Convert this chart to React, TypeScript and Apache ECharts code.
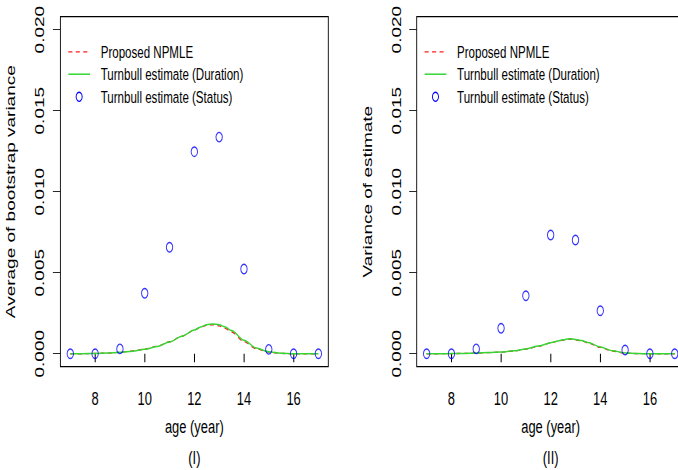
import React, { useEffect, useRef } from "react";
import * as echarts from "echarts";

// Ages at which the Turnbull (status) estimates are reported
const ages = [7, 8, 9, 10, 11, 12, 13, 14, 15, 16, 17];
// Panel (I): average of bootstrap variance, Turnbull estimate (Status)
const statusBoot = [0, 0, 0.0003, 0.00373, 0.00657, 0.01247, 0.01337, 0.00523, 0.00027, 0, 0];
// Panel (II): variance of estimate, Turnbull estimate (Status)
const statusVar = [0, 0, 0.0003, 0.00157, 0.00358, 0.00733, 0.00702, 0.00265, 0.00023, 0, 0];

// Ages at which the smooth curves are evaluated
const curveAges = [7, 7.5, 8, 8.5, 9, 9.5, 10, 10.5, 11, 11.5, 12, 12.25, 12.5, 12.75, 13, 13.25, 13.5, 14, 14.5, 15, 15.5, 16, 16.5, 17];
// Panel (I) curves
const npmleBoot = [0, 0, 0.00002, 0.00004, 0.00009, 0.00017, 0.00028, 0.00046, 0.00074, 0.00108, 0.00145, 0.00164, 0.00176, 0.00179, 0.00172, 0.00157, 0.00134, 0.00075, 0.0003, 0.0001, 0.00002, 0, 0, 0];
const durationBoot = [0, 0, 0.00002, 0.00004, 0.00009, 0.00016, 0.00027, 0.00045, 0.00073, 0.00108, 0.00146, 0.00165, 0.00179, 0.00184, 0.00179, 0.00165, 0.00143, 0.00083, 0.00035, 0.00012, 0.00003, 0, 0, 0];
// Panel (II) curves
const npmleVar = [0, 0, 0.00001, 0.00002, 0.00004, 0.00007, 0.0001, 0.00017, 0.00028, 0.00045, 0.00066, 0.00076, 0.00084, 0.0009, 0.00086, 0.00079, 0.00067, 0.00039, 0.00016, 0.00004, 0.00001, 0, 0, 0];
const durationVar = [0, 0, 0.00001, 0.00002, 0.00004, 0.00007, 0.0001, 0.00018, 0.00029, 0.00047, 0.00068, 0.00077, 0.00086, 0.00093, 0.00088, 0.00081, 0.0007, 0.00042, 0.00018, 0.00005, 0.00001, 0, 0, 0];

// Tick positions and labels
const xTicks = [8, 10, 12, 14, 16];
const yTicks = [0, 0.005, 0.01, 0.015, 0.02];

const legendNames = ["Proposed NPMLE", "Turnbull estimate (Duration)", "Turnbull estimate (Status)"];
const yTitles = ["Average of bootstrap variance", "Variance of estimate"];
const captions = ["(I)", "(II)"];

// The figure is drawn wide and then squeezed horizontally
const SQUEEZE = 0.68;
const W = 1010;
const H = 470;
const FONT = "'Liberation Sans', Arial, Helvetica, sans-serif";

const RED = "#ff1a1a";
const GREEN = "#33d633";
const BLUE = "#0000ff";

const GRID_LEFT = [88.8, 612.8];
const GRID_TOP = 16.7;
const GRID_W = 394;
const GRID_H = 350;
const Y_NAME_GAP = [64, 63];

const pairs = (xs: number[], ys: number[]) => xs.map((x, i) => [x, ys[i]]);

function buildOption() {
  const panels = [
    { status: statusBoot, npmle: npmleBoot, duration: durationBoot },
    { status: statusVar, npmle: npmleVar, duration: durationVar },
  ];

  const grid = GRID_LEFT.map((left) => ({
    left,
    top: GRID_TOP,
    width: GRID_W,
    height: GRID_H,
    show: true,
    borderColor: "#000",
    borderWidth: 1.3,
    backgroundColor: "transparent",
  }));

  const xAxis = [0, 1].map((i) => ({
    gridIndex: i,
    type: "value",
    min: 6.6,
    max: 17.4,
    axisLine: { show: false },
    splitLine: { show: false },
    axisTick: {
      show: true,
      inside: false,
      length: 8.5,
      customValues: xTicks,
      lineStyle: { color: "#000", width: 1.5 },
    },
    axisLabel: {
      customValues: xTicks,
      margin: 22,
      fontSize: 19,
      color: "#000",
      fontFamily: FONT,
    },
    name: "age (year)",
    nameLocation: "middle",
    nameGap: 50,
    nameTextStyle: { fontSize: 19, color: "#000", fontFamily: FONT },
  }));

  const yAxis = [0, 1].map((i) => ({
    gridIndex: i,
    type: "value",
    min: -0.0008,
    max: 0.0208,
    axisLine: { show: false },
    splitLine: { show: false },
    axisTick: {
      show: true,
      inside: false,
      length: 11,
      customValues: yTicks,
      lineStyle: { color: "#000", width: 1 },
    },
    axisLabel: {
      customValues: yTicks,
      rotate: 90,
      margin: 21,
      fontSize: 19,
      color: "#000",
      fontFamily: FONT,
      formatter: (v: number) => v.toFixed(3),
    },
    name: yTitles[i],
    nameLocation: "middle",
    nameRotate: 90,
    nameGap: Y_NAME_GAP[i],
    nameTextStyle: { fontSize: 19, color: "#000", fontFamily: FONT },
  }));

  const series: any[] = [];
  panels.forEach((p, i) => {
    series.push({
      name: legendNames[0],
      type: "line",
      xAxisIndex: i,
      yAxisIndex: i,
      data: pairs(curveAges, p.npmle),
      smooth: 0.3,
      smoothMonotone: "x",
      symbol: "none",
      lineStyle: { color: RED, width: 1.3, type: [6, 5] },
      silent: true,
      z: 2,
    });
    series.push({
      name: legendNames[1],
      type: "line",
      xAxisIndex: i,
      yAxisIndex: i,
      data: pairs(curveAges, p.duration),
      smooth: 0.3,
      smoothMonotone: "x",
      symbol: "none",
      lineStyle: { color: GREEN, width: 1.5 },
      silent: true,
      z: 3,
    });
    series.push({
      name: legendNames[2],
      type: "scatter",
      xAxisIndex: i,
      yAxisIndex: i,
      data: pairs(ages, p.status),
      symbol: "circle",
      symbolSize: 9.4,
      itemStyle: { color: "rgba(0,0,0,0)", borderColor: BLUE, borderWidth: 1.4 },
      silent: true,
      z: 4,
    });
  });

  // Legend keys and captions for each panel
  const graphic: any[] = [];
  const rowY = [51.8, 74.2, 96.8];
  [0, 1].forEach((i) => {
    const dx = GRID_LEFT[i] - GRID_LEFT[0];
    const x1 = 100.4 + dx;
    const x2 = 132.4 + dx;
    const tx = 148.1 + dx;
    graphic.push({
      type: "line",
      shape: { x1, y1: rowY[0], x2, y2: rowY[0] },
      style: { stroke: RED, lineWidth: 1.3, lineDash: [6, 5] },
      silent: true,
    });
    graphic.push({
      type: "line",
      shape: { x1, y1: rowY[1], x2, y2: rowY[1] },
      style: { stroke: GREEN, lineWidth: 1.5 },
      silent: true,
    });
    graphic.push({
      type: "circle",
      shape: { cx: (x1 + x2) / 2, cy: rowY[2], r: 4.5 },
      style: { fill: "none", stroke: BLUE, lineWidth: 1.4 },
      silent: true,
    });
    legendNames.forEach((name, k) => {
      graphic.push({
        type: "text",
        x: tx,
        y: rowY[k],
        style: {
          text: name,
          fontSize: 17,
          fontFamily: FONT,
          fill: "#000",
          align: "left",
          verticalAlign: "middle",
        },
        silent: true,
      });
    });
    graphic.push({
      type: "text",
      x: GRID_LEFT[i] + GRID_W / 2,
      y: 457,
      style: {
        text: captions[i],
        fontSize: 19,
        fontFamily: FONT,
        fill: "#000",
        align: "center",
        verticalAlign: "middle",
      },
      silent: true,
    });
  });

  return {
    animation: false,
    backgroundColor: "#fff",
    grid,
    xAxis,
    yAxis,
    series,
    graphic,
  };
}

export default function App() {
  const ref = useRef<HTMLDivElement>(null);

  useEffect(() => {
    if (!ref.current) return;
    const chart = echarts.init(ref.current, null, { renderer: "svg", width: W, height: H });
    chart.setOption(buildOption() as any);
    return () => chart.dispose();
  }, []);

  return (
    <div
      style={{
        position: "fixed",
        left: 0,
        top: 0,
        width: 678,
        height: 470,
        overflow: "hidden",
        background: "#fff",
      }}
    >
      <div
        ref={ref}
        style={{
          width: W,
          height: H,
          transform: `scaleX(${SQUEEZE})`,
          transformOrigin: "0 0",
        }}
      />
    </div>
  );
}
